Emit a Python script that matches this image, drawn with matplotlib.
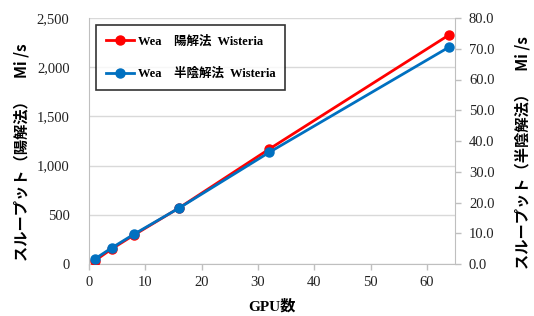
import matplotlib
matplotlib.use("Agg")
import matplotlib.pyplot as plt
from matplotlib.ticker import FuncFormatter

gpus = [1, 4, 8, 16, 32, 64]
explicit = [32, 152, 295, 570, 1168, 2330]
semi_implicit = [1.6, 5.2, 9.7, 18.2, 36.3, 70.6]
label_explicit = "Wea　陽解法  Wisteria"
label_semi = "Wea　半陰解法  Wisteria"
ylabel_left = "スループット（陽解法）　Mi /s"
ylabel_right = "スループット（半陰解法）　Mi /s"
xlabel = "GPU数"

serif = ["Liberation Serif", "Noto Sans CJK JP"]
gothic = ["Noto Sans CJK JP", "Liberation Serif"]
red = "#ff0000"
blue = "#0070c0"
grid = "#d9d9d9"
spine = "#bfbfbf"

fig = plt.figure(figsize=(5.34, 3.16), dpi=100)
ax = fig.add_axes([89/534, 1-264/316, (455-89)/534, (264-18)/316])
ax2 = ax.twinx()

l1, = ax.plot(gpus, explicit, color=red, marker="o", markersize=6.5, lw=2, label=label_explicit, zorder=3)
l2, = ax2.plot(gpus, semi_implicit, color=blue, marker="o", markersize=6.5, lw=2, label=label_semi, zorder=3)

ax.set_xlim(0, 65)
ax.set_ylim(0, 2500)
ax2.set_ylim(0, 80)
ax.set_xticks(range(0, 61, 10))
ax.set_yticks(range(0, 2501, 500))
ax2.set_yticks(range(0, 81, 10))
ax.yaxis.set_major_formatter(FuncFormatter(lambda v, p: f"{int(v):,}"))
ax2.yaxis.set_major_formatter(FuncFormatter(lambda v, p: f"{v:.1f}"))

ax.grid(axis="y", color=grid, lw=1)
ax.set_axisbelow(True)
for a in (ax, ax2):
    for s in a.spines.values():
        s.set_color(spine)
    a.spines["top"].set_visible(False)
    a.tick_params(colors=spine, labelcolor="#222222", length=4, width=1)
    for t in a.get_xticklabels() + a.get_yticklabels():
        t.set_family(serif)
        t.set_fontsize(10.5)
ax.spines["right"].set_visible(False)
ax2.spines["left"].set_visible(False)
ax2.spines["bottom"].set_visible(False)
ax.tick_params(axis="y", length=0, pad=14)
ax.tick_params(axis="x", pad=5)
ax2.tick_params(axis="y", pad=6)

ax.set_xlabel(xlabel, family=serif, fontweight="bold", fontsize=11, labelpad=7)
ax.set_ylabel(ylabel_left, family=gothic, fontweight="bold", fontsize=11)
ax2.set_ylabel(ylabel_right, family=gothic, fontweight="bold", fontsize=11)
ax.yaxis.set_label_coords(-0.162, 0.455)
ax2.yaxis.set_label_coords(1.162, 0.455)

leg = ax.legend([l1, l2], [label_explicit, label_semi], loc="upper left",
                bbox_to_anchor=(0.02, 0.97), frameon=True, fancybox=False,
                edgecolor="#000000", prop={"family": serif, "weight": "bold", "size": 9},
                handlelength=2.2, handletextpad=0.3, labelspacing=1.6, borderpad=0.8,
                borderaxespad=0)
leg.get_frame().set_linewidth(1.2)
leg.set_zorder(5)

fig.savefig("out.png", dpi=100)
